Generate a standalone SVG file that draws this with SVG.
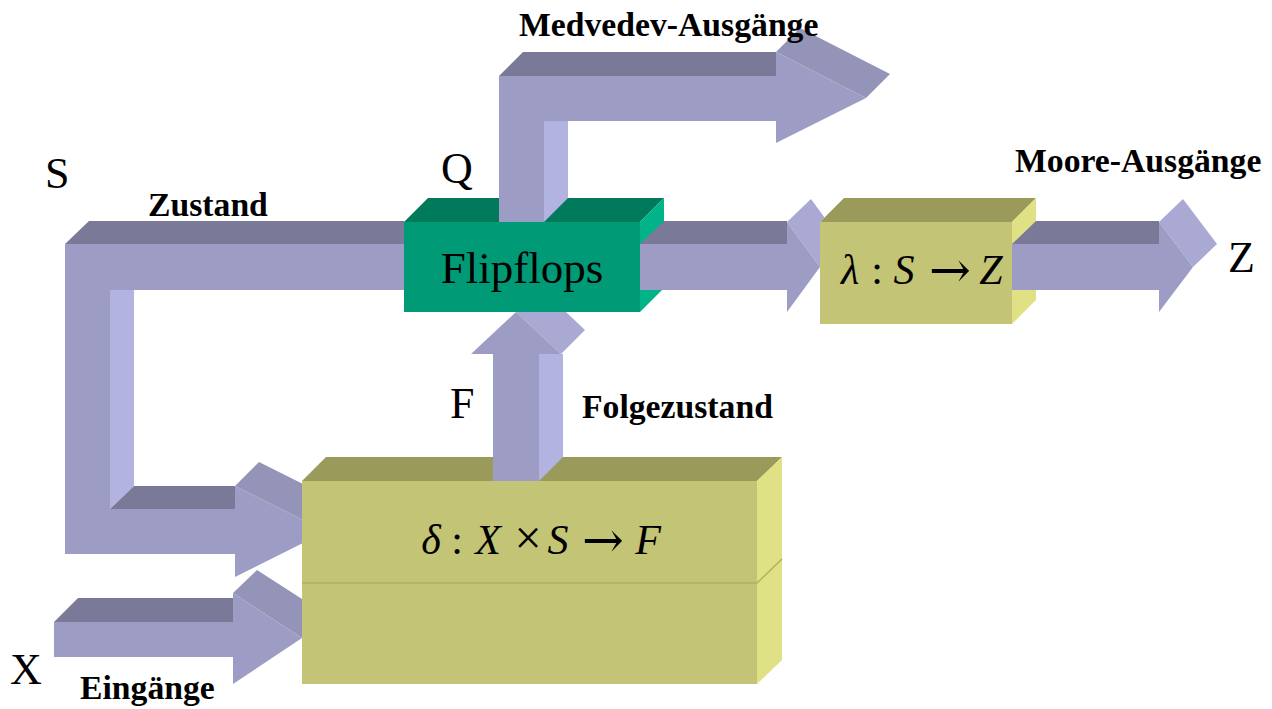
<svg xmlns="http://www.w3.org/2000/svg" width="1272" height="709" viewBox="0 0 1272 709">
<style>
.af{fill:#9D9CC4}
.at{fill:#7A7A98}
.as{fill:#B3B3E1}
.ht{fill:#9494B9}
.hl{fill:#A9A9D4}
.yf{fill:#C3C475}
.yt{fill:#9A9A5A}
.ys{fill:#E0E084}
.gf{fill:#009B76}
.gt{fill:#007A5B}
.gs{fill:#00B388}
.lb{font-family:"Liberation Serif","Times New Roman",serif;font-weight:bold;font-size:33.7px;fill:#000}
.lt{font-family:"Liberation Serif","Times New Roman",serif;font-size:44px;fill:#000}
.mi{font-family:"Liberation Serif","Times New Roman",serif;font-style:italic;font-size:42px;fill:#000}
.mu{font-family:"Liberation Serif","Times New Roman",serif;font-size:42px;fill:#000}
.ar{font-family:"DejaVu Serif","DejaVu Sans",serif;font-size:50px;fill:#000}
</style>
<rect width="1272" height="709" fill="#fff"/>

<g id="delta">
<polygon class="yt" points="302,481 326,457 782,457 757,481"/>
<polygon class="ys" points="757,481 782,457 782,660 757,684"/>
<rect class="yf" x="302" y="481" width="455" height="203"/>
<polyline points="302,583 757,583 782,559" fill="none" stroke="#B0B066" stroke-width="1.5"/>
<text class="mi" x="431" y="554" text-anchor="middle">δ</text>
<text class="mu" x="457" y="554" text-anchor="middle">:</text>
<text class="mi" x="488" y="554" text-anchor="middle">X</text>
<text class="mu" x="528" y="554" text-anchor="middle" style="font-size:48px">×</text>
<text class="mi" x="558" y="554" text-anchor="middle">S</text>
<text class="ar" x="603" y="557" text-anchor="middle">→</text>
<text class="mi" x="648" y="554" text-anchor="middle">F</text>
</g>

<g id="flipflops">
<polygon class="gt" points="404,222 428,198 664,198 640,222"/>
<polygon class="gs" points="640,222 664,198 664,288 640,312"/>
<rect class="gf" x="404" y="222" width="236" height="90"/>
<text class="lt" x="522" y="283" text-anchor="middle" style="font-size:45px">Flipflops</text>
</g>

<g id="lambda">
<polygon class="yt" points="820,222 844,198 1036,198 1012,222"/>
<polygon class="ys" points="1012,222 1036,198 1036,300 1012,324"/>
<rect class="yf" x="820" y="222" width="192" height="102"/>
<text class="mi" x="850" y="284" text-anchor="middle">λ</text>
<text class="mu" x="877" y="284" text-anchor="middle">:</text>
<text class="mi" x="904" y="284" text-anchor="middle">S</text>
<text class="ar" x="950" y="287" text-anchor="middle">→</text>
<text class="mi" x="991" y="284" text-anchor="middle">Z</text>
</g>

<g id="connectors">
<g id="arrow-zustand">
<polygon class="at" points="65,244 89,221 404,221 404,244"/>
<polygon class="as" points="110,290 134,290 134,486 110,509"/>
<polygon class="at" points="110,509 134,486 235,486 235,509"/>
<polygon class="ht" points="235,486 259,462 302,483.5 302,519.5"/>
<polygon class="af" points="65,244 404,244 404,290 110,290 110,509 235,509 235,486 302,519.5 302,543.5 235,577 235,554 65,554"/>
</g>
<g id="arrow-x">
<polygon class="at" points="54,622 78,598 233,598 233,622"/>
<polygon class="ht" points="233,593 257,570 302,599 302,638"/>
<polygon class="af" points="54,622 233,622 233,593 302,638 233,684 233,657 54,657"/>
</g>
<g id="arrow-f">
<polygon class="as" points="539,354 563,354 563,457 539,481"/>
<polygon class="hl" points="516,312 566,312 585,330 561,354"/>
<polygon class="af" points="493,481 493,354 471,354 516,312 561,354 539,354 539,481"/>
</g>
<g id="arrow-q">
<polygon class="as" points="544,121 568,121 568,198 544,222"/>
<polygon class="at" points="499,76 523,52 776,52 776,76"/>
<polygon class="ht" points="776,52 800,28 890,74 866,98"/>
<polygon class="af" points="499,222 499,76 776,76 776,52 866,98 776,143 776,121 544,121 544,222"/>
</g>
<g id="arrow-s2">
<polygon class="at" points="640,244 664,221 787,221 787,244"/>
<polygon class="hl" points="787,222 811,199 824.5,217.5 820,222 820,267"/>
<polygon class="af" points="640,244 787,244 787,222 820,267 787,312 787,290 640,290"/>
</g>
<g id="arrow-z">
<polygon class="at" points="1012,244 1036,221 1159,221 1159,244"/>
<polygon class="hl" points="1159,222 1183,199 1217,244 1193,267"/>
<polygon class="af" points="1012,244 1159,244 1159,222 1193,267 1159,312 1159,290 1012,290"/>
</g>
</g>

<g id="labels">
<text class="lb" x="519" y="36">Medvedev-Ausgänge</text>
<text class="lb" x="148" y="216">Zustand</text>
<text class="lb" x="1015" y="172">Moore-Ausgänge</text>
<text class="lb" x="582" y="418">Folgezustand</text>
<text class="lb" x="80" y="699">Eingänge</text>
<text class="lt" x="45" y="188">S</text>
<text class="lt" x="441" y="183">Q</text>
<text class="lt" x="450" y="418">F</text>
<text class="lt" x="10" y="684">X</text>
<text class="lt" x="1228" y="272">Z</text>
</g>
</svg>
